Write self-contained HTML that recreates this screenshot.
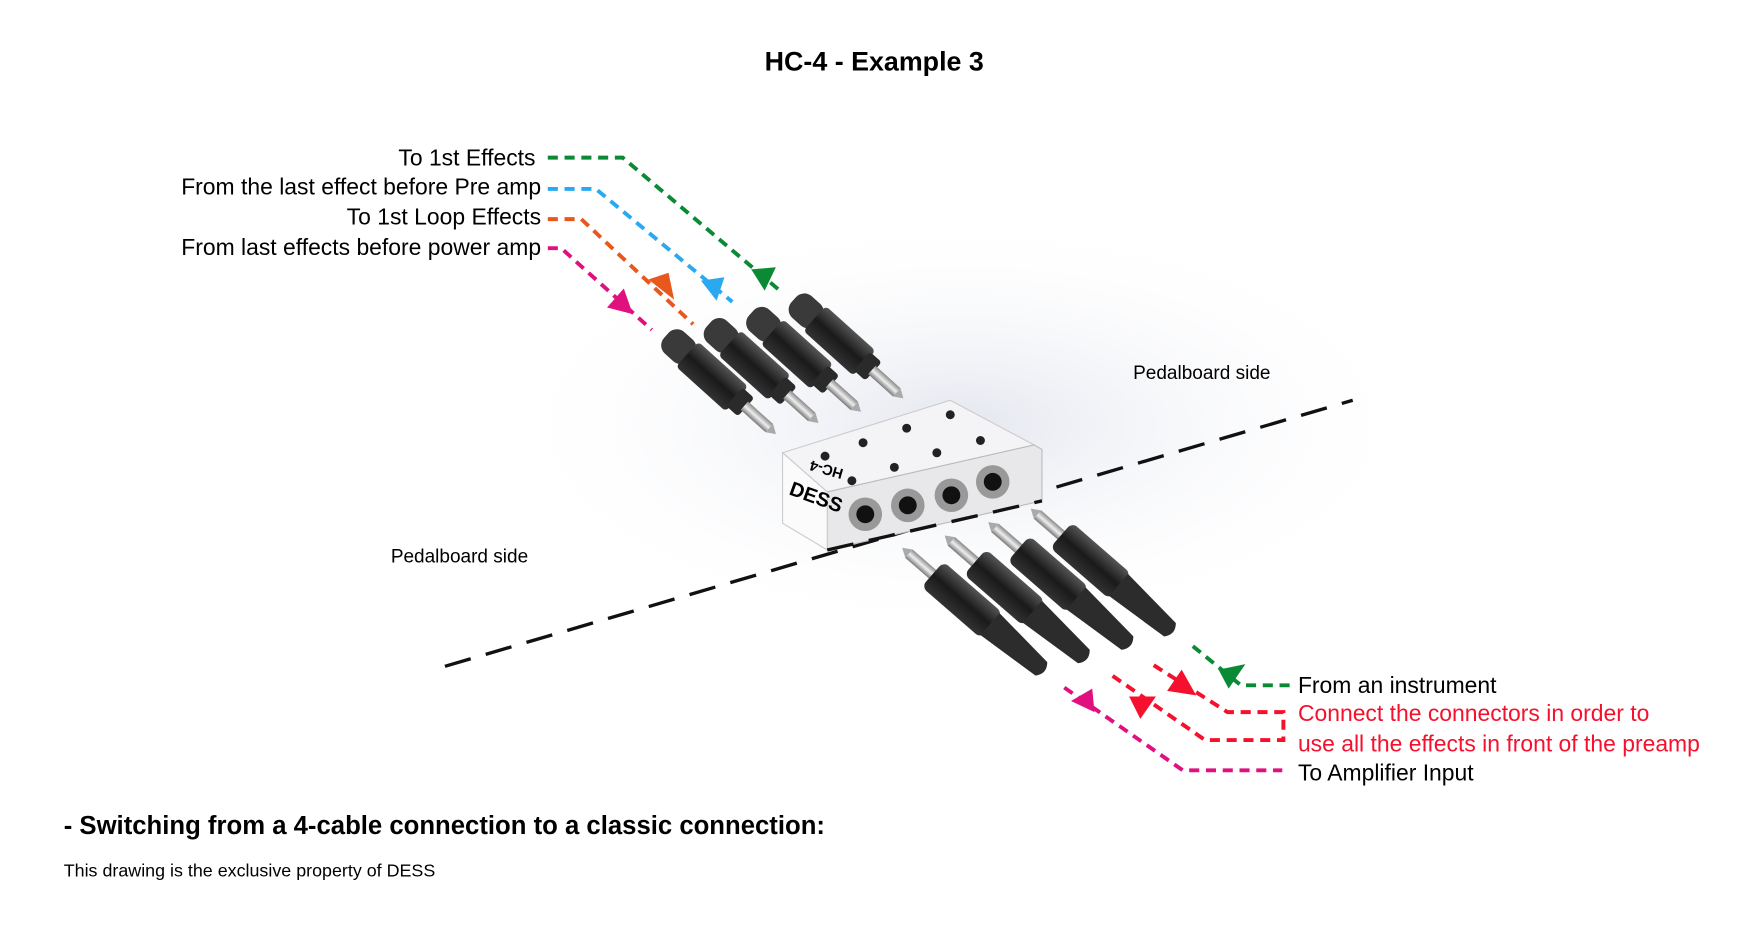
<!DOCTYPE html>
<html><head><meta charset="utf-8"><style>
html,body{margin:0;padding:0;background:#fff;}
svg{display:block;}
text{font-family:"Liberation Sans",sans-serif;}
</style></head><body>
<svg width="1744" height="942" viewBox="0 0 1560 842.6" xmlns="http://www.w3.org/2000/svg">
<defs>
<radialGradient id="sh" cx="0.5" cy="0.5" r="0.5">
<stop offset="0" stop-color="#d8dce8"/><stop offset="1" stop-color="#fff" stop-opacity="0"/>
</radialGradient>
<linearGradient id="met" x1="0" y1="0" x2="0" y2="1">
<stop offset="0" stop-color="#888"/><stop offset="0.5" stop-color="#eee"/><stop offset="1" stop-color="#777"/>
</linearGradient>
<linearGradient id="blk" x1="0" y1="0" x2="0" y2="1">
<stop offset="0" stop-color="#555"/><stop offset="0.5" stop-color="#1a1a1a"/><stop offset="1" stop-color="#333"/>
</linearGradient>
<g id="plugU">
<rect x="0" y="-13" width="30" height="26" rx="10" fill="#3a3a3a"/>
<rect x="25" y="-15" width="60" height="30" rx="4" fill="url(#blk)"/>
<rect x="82" y="-11" width="14" height="22" rx="3" fill="#2a2a2a"/>
<rect x="94" y="-5" width="30" height="10" fill="url(#met)"/>
<path d="M124,-5 L132,0 L124,5Z" fill="#aaa"/>
</g>
<g id="plugL">
<path d="M0,0 L8,-5 L8,5Z" fill="#aaa"/>
<rect x="8" y="-5" width="30" height="10" fill="url(#met)"/>
<rect x="36" y="-15" width="70" height="30" rx="6" fill="url(#blk)"/>
<path d="M104,-13 L165,-8 Q172,0 165,8 L104,13Z" fill="#2c2c2c"/>
</g>
</defs>
<rect width="1560" height="842.6" fill="#fff"/>
<ellipse cx="860" cy="380" rx="420" ry="190" fill="url(#sh)" opacity="0.7"/>

<text x="782" y="63" text-anchor="middle" font-size="24" font-weight="bold">HC-4  -  Example 3</text>

<g font-size="20.5" text-anchor="end">
<text x="479" y="148">To 1st Effects</text>
<text x="484" y="174">From the last effect before Pre amp</text>
<text x="484" y="201">To 1st Loop Effects</text>
<text x="484" y="228">From last effects before power amp</text>
</g>
<g fill="none" stroke-width="3.5" stroke-dasharray="9,6">
<path d="M490,141 L557,141 L700,262" stroke="#0a8a35"/>
<path d="M490,169 L533,169 L655,270" stroke="#2aa8f0"/>
<path d="M490,196 L520,196 L620,290" stroke="#e8571e"/>
<path d="M490,222 L502,222 L583,295" stroke="#e0107f"/>
</g>
<path d="M672,241 L694,239 L684,260Z" fill="#0a8a35"/>
<path d="M627,251 L648,248 L641,269Z" fill="#2aa8f0"/>
<path d="M580,250 L598,244 L603,268Z" fill="#e8571e"/>
<path d="M558,258 L566,281 L543,275Z" fill="#e0107f"/>

<text x="1075" y="339" text-anchor="middle" font-size="17">Pedalboard side</text>
<text x="411" y="503" text-anchor="middle" font-size="17">Pedalboard side</text>
<path d="M398,596 L1210,358" stroke="#111" stroke-width="3" stroke-dasharray="24,14" fill="none"/>

<g transform="translate(710,268) rotate(42)"><use href="#plugU"/></g>
<g transform="translate(672,280) rotate(42)"><use href="#plugU"/></g>
<g transform="translate(634,290) rotate(42)"><use href="#plugU"/></g>
<g transform="translate(596,300) rotate(42)"><use href="#plugU"/></g>

<polygon points="700,405 850,358 925,398 740,440" fill="#f4f4f6" stroke="#ccc"/>
<polygon points="740,440 925,398 932,402 932,448 740,492" fill="#e8e8ea" stroke="#bbb"/>
<polygon points="700,405 740,440 740,492 700,468" fill="#fbfbfb" stroke="#ccc"/>
<text x="705" y="442" font-size="18" font-weight="bold" transform="rotate(20 705 442)">DESS</text>
<text x="755" y="420" font-size="13" font-weight="bold" transform="rotate(196 755 420)">HC-4</text>
<g fill="#222">
<circle cx="738" cy="408" r="4"/><circle cx="772" cy="396" r="4"/><circle cx="811" cy="383" r="4"/><circle cx="850" cy="371" r="4"/>
<circle cx="762" cy="430" r="4"/><circle cx="800" cy="418" r="4"/><circle cx="838" cy="405" r="4"/><circle cx="877" cy="394" r="4"/>
</g>
<g>
<circle cx="774" cy="460" r="15" fill="#999"/><circle cx="774" cy="460" r="8" fill="#111"/>
<circle cx="812" cy="452" r="15" fill="#999"/><circle cx="812" cy="452" r="8" fill="#111"/>
<circle cx="851" cy="443" r="15" fill="#999"/><circle cx="851" cy="443" r="8" fill="#111"/>
<circle cx="888" cy="431" r="15" fill="#999"/><circle cx="888" cy="431" r="8" fill="#111"/>
</g>
<path d="M740,492 L932,448" stroke="#111" stroke-width="3" stroke-dasharray="24,14"/>

<g transform="translate(922,455) rotate(41)"><use href="#plugL"/></g>
<g transform="translate(884,467) rotate(41)"><use href="#plugL"/></g>
<g transform="translate(845,479) rotate(41)"><use href="#plugL"/></g>
<g transform="translate(807,490) rotate(41)"><use href="#plugL"/></g>

<g fill="none" stroke-width="3.5" stroke-dasharray="9,6">
<path d="M1067,578 L1110,613 L1157,613" stroke="#0a8a35"/>
<path d="M1032,595 L1098,637 L1148,637 L1148,662 L1078,662 L993,603" stroke="#f5102d"/>
<path d="M952,615 L1058,689 L1147,689" stroke="#e0107f"/>
</g>
<path d="M1114,594 L1090,599 L1099,616Z" fill="#0a8a35"/>
<path d="M1057,599 L1044,618 L1070,622Z" fill="#f5102d"/>
<path d="M1010,623 L1034,623 L1020,643Z" fill="#f5102d"/>
<path d="M977,616 L958,627 L979,637Z" fill="#e0107f"/>

<g font-size="20.5">
<text x="1161" y="620">From an instrument</text>
<text x="1161" y="645" fill="#f5102d">Connect the connectors in order to</text>
<text x="1161" y="672" fill="#f5102d">use all the effects in front of the preamp</text>
<text x="1161" y="698">To Amplifier Input</text>
</g>

<text x="57" y="746" font-size="23" font-weight="bold">- Switching from a 4-cable connection to a classic connection:</text>
<text x="57" y="784" font-size="16">This drawing is the exclusive property of DESS</text>
</svg>
</body></html>
